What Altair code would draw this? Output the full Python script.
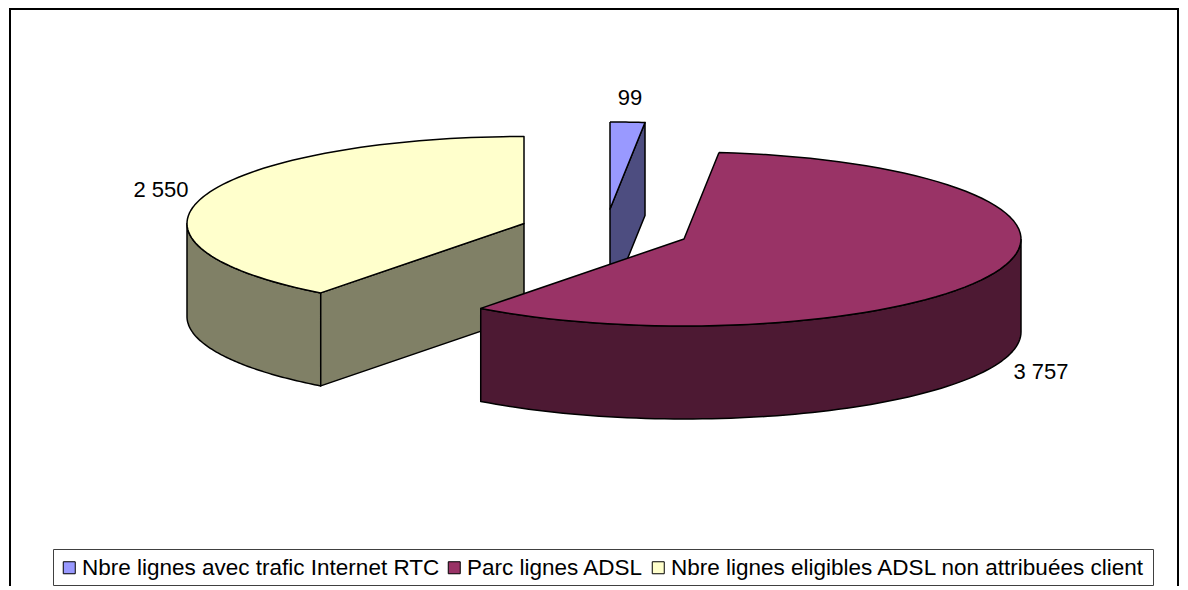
import numpy as np
import pandas as pd
import altair as alt

categories = ["Nbre lignes avec trafic Internet RTC", "Parc lignes ADSL",
              "Nbre lignes eligibles ADSL non attribuées client"]
values = [99, 3757, 2550]
labels = ["99", "3 757", "2 550"]
top_colors = ["#9999FF", "#993366", "#FFFFCC"]
side_colors = ["#4D4D80", "#4D1933", "#808066"]
# exploded slice centres of the pie and the ellipse that projects it
centers = [(610, 209), (684, 239), (524, 223.5)]
RX, RY, DEPTH = 337, 87, 93
label_pos = [(630, 98), (1041, 372), (161, 190)]
# the original's 3-D projection shifts the two inner slice boundaries slightly
BOUNDARY_SHIFT = np.radians(0.4)

W, H = 1172, 578
xs = alt.X("x:Q", scale=alt.Scale(domain=[0, W], nice=False, zero=False), axis=None)
ys = alt.Y("y:Q", scale=alt.Scale(domain=[H, 0], nice=False, zero=False), axis=None)

fracs = np.cumsum([0] + values) / sum(values)
angles = fracs * 2 * np.pi
angles[1] += BOUNDARY_SHIFT
angles[2] += BOUNDARY_SHIFT


def rim(i, a0, a1, dy=0.0, n=80):
    cx, cy = centers[i]
    t = np.linspace(a0, a1, n)
    return list(zip(cx + RX * np.sin(t) - 8, cy - RY * np.cos(t) + dy - 8))


def poly(pts, fill):
    pts = list(pts) + [pts[0]]
    df = pd.DataFrame({"x": [p[0] for p in pts], "y": [p[1] for p in pts],
                       "i": range(len(pts))})
    return alt.Chart(df).mark_line(fill=fill, stroke="black", strokeWidth=1.5,
                                   strokeJoin="round", clip=False).encode(
        x=xs, y=ys, order="i:Q")


layers = []
# chart frame
frame = pd.DataFrame({"x": [2], "x2": [1170], "y": [1], "y2": [H + 10]})
layers.append(alt.Chart(frame).mark_rect(fillOpacity=0, stroke="black", strokeWidth=2).encode(
    x=xs, x2="x2:Q", y=ys, y2="y2:Q"))
box = pd.DataFrame({"x": [45.5], "x2": [1145.5], "y": [541.5], "y2": [577.5]})
layers.append(alt.Chart(box).mark_rect(fillOpacity=0, stroke="#404040", strokeWidth=1).encode(
    x=xs, x2="x2:Q", y=ys, y2="y2:Q"))


def apex(i, dy=0.0):
    return (centers[i][0] - 8, centers[i][1] - 8 + dy)


# yellow slice
i = 2
a0, a1 = angles[2], angles[3]
left = 1.5 * np.pi
layers.append(poly(rim(i, a0, left) + rim(i, left, a0, DEPTH), side_colors[i]))
layers.append(poly([rim(i, a0, a0, n=1)[0], apex(i), apex(i, DEPTH), rim(i, a0, a0, DEPTH, n=1)[0]], side_colors[i]))
layers.append(poly(rim(i, a0, a1) + [apex(i)], top_colors[i]))

# blue slice
i = 0
a0, a1 = angles[0], angles[1]
end = rim(i, a1, a1, n=1)[0]
end_low = rim(i, a1, a1, DEPTH, n=1)[0]
layers.append(poly([apex(i), end, end_low, apex(i, DEPTH)], side_colors[i]))
layers.append(poly(rim(i, a0, a1, n=12) + [apex(i)], top_colors[i]))

# maroon slice
i = 1
a0, a1 = angles[1], angles[2]
right = 0.5 * np.pi
layers.append(poly(rim(i, right, a1) + rim(i, a1, right, DEPTH), side_colors[i]))
layers.append(poly(rim(i, a0, a1) + [apex(i)], top_colors[i]))

# value labels
lab = pd.DataFrame({"x": [p[0] - 8 for p in label_pos], "y": [p[1] - 8 for p in label_pos], "t": labels})
layers.append(alt.Chart(lab).mark_text(font="Liberation Sans", fontSize=22, color="black").encode(
    x=xs, y=ys, text="t:N"))

# legend carrier
leg = pd.DataFrame({"cat": categories, "x": [0, 0, 0], "y": [0, 0, 0]})
layers.append(alt.Chart(leg).mark_square(size=0, opacity=0).encode(
    x=xs, y=ys,
    color=alt.Color("cat:N", scale=alt.Scale(domain=categories, range=top_colors),
                    legend=alt.Legend(
                        title=None, orient="none", legendX=50, legendY=548.5,
                        direction="horizontal", columns=3, gridAlign="none",
                        symbolType="square", symbolSize=144, symbolStrokeColor="black",
                        symbolStrokeWidth=1, symbolOpacity=1, labelFont="Liberation Sans", labelFontSize=22.5,
                        labelColor="black", labelLimit=700, columnPadding=3,
                        labelOffset=1.5, symbolOffset=0, padding=0))))

chart = alt.layer(*layers).properties(width=W, height=H, padding=0,
                                      autosize=alt.AutoSizeParams(type="none"),
                                      background="white").configure_view(stroke=None)
chart.save("out.html", embed_options={"renderer": "svg", "actions": False})
